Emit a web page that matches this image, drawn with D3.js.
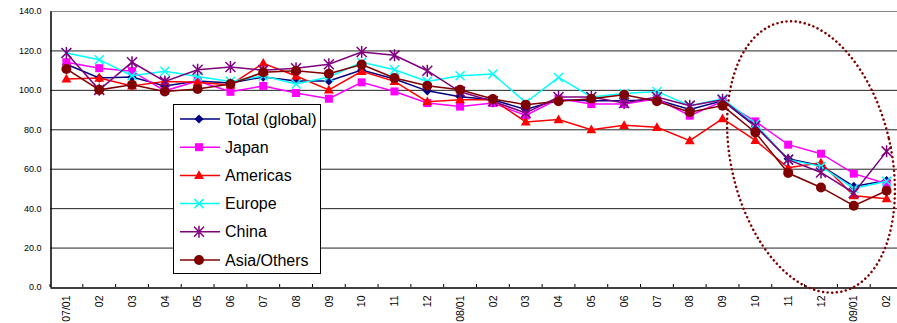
<!DOCTYPE html>
<html><head><meta charset="utf-8">
<script src="https://cdn.jsdelivr.net/npm/d3@7"></script>
<style>
html,body{margin:0;padding:0;background:#fff;overflow:hidden}
text{font-family:"Liberation Sans",Arial,sans-serif}
</style></head>
<body><svg id="c" width="897" height="323"></svg>
<script>
const categories = ["07/01","02","03","04","05","06","07","08","09","10","11","12",
  "08/01","02","03","04","05","06","07","08","09","10","11","12","09/01","02"];
const yTicks = [0,20,40,60,80,100,120,140];
const seriesNames = ["Total (global)","Japan","Americas","Europe","China","Asia/Others"];
const total    = [113,106,106.5,102,104.5,103.5,106.5,104.5,104.5,110,105.5,99.5,96.5,95,90,95,94.5,94.5,95,90,94.5,81.5,65,61.5,51,54];
const japan    = [114,111,109.5,99.5,104.5,99,102,98.4,95.5,103.8,99.2,93.3,91.5,93.3,87,95.5,92.8,92.8,95.5,86.9,94.2,84,72.2,67.6,57.5,52.4];
const americas = [105.5,106,102,104.3,103.8,102.5,113.5,107,100,109.4,104.3,94,95,95,83.7,84.9,79.8,82,81,74.2,85.4,74.4,60.5,63,46.3,44.8];
const europe   = [118.7,115.3,107.2,109.4,106.8,104.3,107,103,106.5,114,110.2,104.3,107.2,108,93.6,106.3,96.4,98.1,99.2,92,95.4,82.8,64.6,61.2,50,53.6];
const china    = [118.7,100,114,104.3,110.2,111.6,110,111,113,119.2,117.5,109.7,99,94.2,88.3,96.4,96.4,93.3,96.4,92,95,81.8,64.6,58.1,47.7,68.8];
const asia     = [110.6,100,102.6,99.2,100.4,103,108.9,109.7,108.2,112.8,106,102.1,100,95.4,92.5,94.2,95.5,97.5,94.2,88.6,92,78.4,57.8,50.5,41.2,48.8];
const seriesValues = [total,japan,americas,europe,china,asia];
const colors = ["#000080","#FF00FF","#FF0000","#00FFFF","#800080","#800000"];
const markers = ["diamond","square","triangle","cross","asterisk","circle"];

const svg = d3.select("#c");
const pLeft = 50, pRight = 903, pTop = 11, pBottom = 287;
const idx = categories.map((d,i)=>i);
const x = d3.scaleBand().domain(idx).range([pLeft,pRight]).padding(0);
const y = d3.scaleLinear().domain([0,140]).range([pBottom,pTop]);
const cx = i => x(i) + x.bandwidth()/2;

// gridlines
svg.append("g").selectAll("line").data(yTicks.filter(d=>d>0)).join("line")
  .attr("x1",pLeft).attr("x2",897).attr("y1",d=>y(d)+0.5).attr("y2",d=>y(d)+0.5)
  .attr("stroke",d=>d===140?"#888":"#222").attr("stroke-width",1);

// y axis
const yAxis = d3.axisLeft(y).tickValues(yTicks).tickFormat(d3.format(".1f")).tickSize(0).tickPadding(9);
const gy = svg.append("g").attr("transform",`translate(${pLeft+0.5},0)`).call(yAxis);
gy.select(".domain").attr("stroke","#000").attr("stroke-width",1.5);
gy.selectAll("text").attr("font-size",9).attr("fill","#000").attr("font-family","Liberation Sans, Arial, sans-serif");

// x axis
const xAxis = d3.axisBottom(x).tickFormat(i=>categories[i]).tickSize(0).tickPadding(0);
const gx = svg.append("g").attr("transform",`translate(0,${pBottom+0.5})`).call(xAxis);
gx.select(".domain").attr("stroke","#000").attr("stroke-width",1.5);
gx.selectAll(".tick text").attr("font-size",10.5).attr("fill","#000")
  .attr("font-family","Liberation Sans, Arial, sans-serif")
  .attr("transform","translate(0,8) rotate(-90)").attr("text-anchor","end")
  .attr("x",0).attr("y",0).attr("dy","0.35em");
// boundary ticks (inside)
svg.append("g").selectAll("line").data(d3.range(categories.length+1)).join("line")
  .attr("x1",i=>pLeft+i*x.bandwidth()).attr("x2",i=>pLeft+i*x.bandwidth())
  .attr("y1",pBottom-3).attr("y2",pBottom).attr("stroke","#000").attr("stroke-width",1);

function drawMarker(g, type, color, s){
  if(type==="diamond"){
    g.append("path").attr("d",`M0,${-s}L${s},0L0,${s}L${-s},0Z`).attr("fill",color);
  } else if(type==="square"){
    g.append("rect").attr("x",-s).attr("y",-s).attr("width",2*s).attr("height",2*s).attr("fill",color);
  } else if(type==="triangle"){
    g.append("path").attr("d",`M0,${-s*1.15}L${s*1.1},${s*0.8}L${-s*1.1},${s*0.8}Z`).attr("fill",color);
  } else if(type==="cross"){
    g.append("path").attr("d",`M${-s},${-s}L${s},${s}M${-s},${s}L${s},${-s}`).attr("stroke",color).attr("stroke-width",1.5);
  } else if(type==="asterisk"){
    g.append("path").attr("d",`M${-s},${-s}L${s},${s}M${-s},${s}L${s},${-s}M0,${-s*1.2}L0,${s*1.2}`).attr("stroke",color).attr("stroke-width",1.5);
  } else if(type==="circle"){
    g.append("circle").attr("r",s).attr("fill",color);
  }
}
const msize = {diamond:4.6,square:4,triangle:4.5,cross:4.5,asterisk:5,circle:5};

const line = d3.line().x((d,i)=>cx(i)).y(d=>y(d));
seriesValues.forEach((vals,k)=>{
  const g = svg.append("g");
  g.append("path").datum(vals).attr("d",line).attr("fill","none")
    .attr("stroke",colors[k]).attr("stroke-width",1.5);
  vals.forEach((v,i)=>{
    const mg = g.append("g").attr("transform",`translate(${cx(i)},${y(v)})`);
    drawMarker(mg, markers[k], colors[k], msize[markers[k]]);
  });
});

// legend
const lg = svg.append("g");
lg.append("rect").attr("x",173.5).attr("y",104.5).attr("width",147).attr("height",169)
  .attr("fill","#fff").attr("stroke","#000").attr("stroke-width",1);
seriesNames.forEach((n,k)=>{
  const ly = 119 + k*28.2;
  lg.append("line").attr("x1",180).attr("x2",220).attr("y1",ly).attr("y2",ly)
    .attr("stroke",colors[k]).attr("stroke-width",1.5);
  drawMarker(lg.append("g").attr("transform",`translate(199,${ly})`), markers[k], colors[k], msize[markers[k]]);
  lg.append("text").attr("x",225).attr("y",ly).attr("dy","0.35em").attr("font-size",16)
    .attr("fill","#000").text(n);
});

// dotted ellipse
svg.append("ellipse").attr("cx",0).attr("cy",0).attr("rx",80).attr("ry",138)
  .attr("transform","translate(811,157) rotate(-13)")
  .attr("fill","none").attr("stroke","#800000").attr("stroke-width",2.5)
  .attr("stroke-dasharray","0.1,4.5").attr("stroke-linecap","round");
</script></body></html>
